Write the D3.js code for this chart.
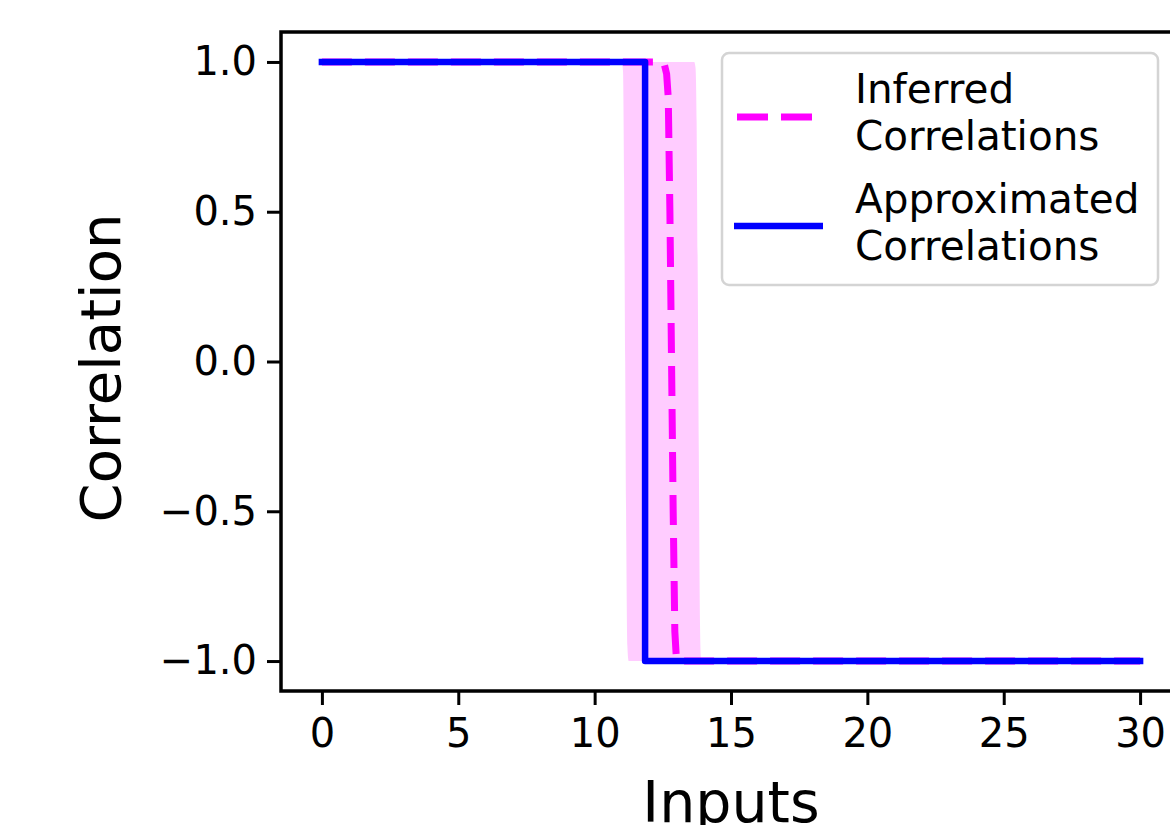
<!DOCTYPE html>
<html>
<head>
<meta charset="utf-8">
<script src="https://cdn.jsdelivr.net/npm/d3@7"></script>
<style>
  body { margin: 0; background: #fff; }
  text { font-family: "DejaVu Sans", sans-serif; }
</style>
</head>
<body>
<div id="chart"></div>
<script>
// data
var xTicks = [0, 5, 10, 15, 20, 25, 30];
var yTicks = [-1.0, -0.5, 0.0, 0.5, 1.0];

// approximated correlations (step)
var approxX = [0, 11.85, 11.85, 30];
var approxY = [1, 1, -1, -1];

// inferred correlations (mean)
var inferX = [0, 12.42, 12.56, 12.64, 12.70, 12.76, 12.82, 12.88, 12.94, 12.99, 13.08, 30];
var inferY = [1, 1, 0.99, 0.96, 0.88, 0.5, 0.0, -0.5, -0.9, -0.98, -1, -1];

// uncertainty band
var bandX    = [0, 11.00, 11.04, 11.08, 11.12, 11.16, 11.20, 11.25, 13.65, 13.70, 13.74, 13.78, 13.82, 13.86, 13.90, 13.95, 30];
var bandLow  = [1, 1, 0.97, 0.6, 0.0, -0.6, -0.95, -1, -1, -1, -1, -1, -1, -1, -1, -1, -1];
var bandHigh = [1, 1, 1, 1, 1, 1, 1, 1, 1, 0.98, 0.8, 0.3, -0.3, -0.85, -0.99, -1, -1];

var legendLabels = [["Inferred", "Correlations"], ["Approximated", "Correlations"]];

var W = 1170, H = 825;
var m = { left: 281, right: 1181, top: 32, bottom: 691 };

var svg = d3.select("#chart")
  .append("svg")
  .attr("width", W)
  .attr("height", H);

var x = d3.scaleLinear().domain([-1.5, 31.5]).range([m.left, m.right]);
var y = d3.scaleLinear().domain([-1.1, 1.1]).range([m.bottom, m.top]);

// band
var band = bandX.map(function(d, i) { return { x: d, lo: bandLow[i], hi: bandHigh[i] }; });
svg.append("path")
  .datum(band)
  .attr("fill", "#ff00ff")
  .attr("fill-opacity", 0.2)
  .attr("d", d3.area()
    .x(function(d) { return x(d.x); })
    .y0(function(d) { return y(d.lo); })
    .y1(function(d) { return y(d.hi); })
    .curve(d3.curveMonotoneX));

var line = d3.line()
  .x(function(d) { return x(d[0]); })
  .y(function(d) { return y(d[1]); });

svg.append("path")
  .datum(inferX.map(function(d, i) { return [d, inferY[i]]; }))
  .attr("fill", "none")
  .attr("stroke", "#ff00ff")
  .attr("stroke-width", 7)
  .attr("stroke-dasharray", "30,13")
  .attr("d", line);

svg.append("path")
  .datum(approxX.map(function(d, i) { return [d, approxY[i]]; }))
  .attr("fill", "none")
  .attr("stroke", "#0000ff")
  .attr("stroke-width", 6.5)
  .attr("stroke-linejoin", "round")
  .attr("stroke-linecap", "square")
  .attr("d", line);

// axes
var xAxis = svg.append("g")
  .attr("transform", "translate(0," + m.bottom + ")")
  .call(d3.axisBottom(x).tickValues(xTicks).tickSize(14).tickPadding(14).tickFormat(d3.format("d")));
var yAxis = svg.append("g")
  .attr("transform", "translate(" + m.left + ",0)")
  .call(d3.axisLeft(y).tickValues(yTicks).tickSize(14).tickPadding(10).tickFormat(d3.format(".1f")));

[xAxis, yAxis].forEach(function(g) {
  g.select(".domain").remove();
  g.selectAll(".tick line").attr("stroke", "#000").attr("stroke-width", 3);
  g.selectAll(".tick text").attr("fill", "#000").style("font-size", "40px");
});

svg.append("rect")
  .attr("x", m.left)
  .attr("y", m.top)
  .attr("width", m.right - m.left)
  .attr("height", m.bottom - m.top)
  .attr("fill", "none")
  .attr("stroke", "#000")
  .attr("stroke-width", 3.5);

// labels
svg.append("text")
  .attr("x", (m.left + m.right) / 2)
  .attr("y", 822)
  .attr("text-anchor", "middle")
  .style("font-size", "57px")
  .text("Inputs");

svg.append("text")
  .attr("transform", "translate(120,368) rotate(-90)")
  .attr("text-anchor", "middle")
  .style("font-size", "56px")
  .text("Correlation");

// legend
var lg = svg.append("g");
lg.append("rect")
  .attr("x", 722).attr("y", 53)
  .attr("width", 436).attr("height", 232)
  .attr("rx", 7)
  .attr("fill", "#fff").attr("fill-opacity", 0.8)
  .attr("stroke", "#d4d4d4").attr("stroke-width", 2.5);

lg.append("line")
  .attr("x1", 737).attr("x2", 812).attr("y1", 117).attr("y2", 117)
  .attr("stroke", "#ff00ff").attr("stroke-width", 7)
  .attr("stroke-dasharray", "31,13");
lg.append("line")
  .attr("x1", 734).attr("x2", 823).attr("y1", 226).attr("y2", 226)
  .attr("stroke", "#0000ff").attr("stroke-width", 6.5);

var baselines = [[103, 150], [213, 260]];
legendLabels.forEach(function(lines, i) {
  lines.forEach(function(t, j) {
    lg.append("text")
      .attr("x", 855)
      .attr("y", baselines[i][j])
      .style("font-size", "40.5px")
      .attr("fill", "#000")
      .text(t);
  });
});
</script>
</body>
</html>
